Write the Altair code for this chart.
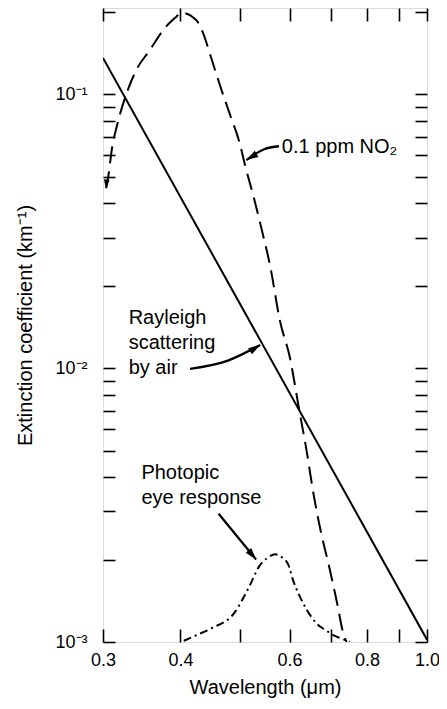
import json
import altair as alt
import pandas as pd

FONT = "Liberation Sans, Arial, Helvetica, sans-serif"

# ---- data ----
# Rayleigh scattering by air
rayleigh_wl = [0.3, 1.0]
rayleigh_ext = [0.136, 0.00102]

# 0.1 ppm NO2
no2_wl = [0.3036, 0.3067, 0.3100, 0.3158, 0.3262, 0.3396, 0.3576, 0.3752, 0.3937,
          0.401, 0.424, 0.435, 0.448, 0.464, 0.482, 0.498, 0.509, 0.526, 0.542,
          0.558, 0.579, 0.601, 0.621, 0.639, 0.656, 0.675, 0.695, 0.714, 0.735, 0.742]
no2_ext = [0.0455, 0.0521, 0.0631, 0.0765, 0.0984, 0.123, 0.146, 0.172, 0.192,
           0.199, 0.187, 0.168, 0.137, 0.107, 0.0832, 0.0670, 0.0548, 0.0416, 0.0316,
           0.0238, 0.0149, 0.0109, 0.00719, 0.00502, 0.00347, 0.00249, 0.00189, 0.00143, 0.00105, 0.00100]

# Photopic eye response
eye_wl = [0.405, 0.425, 0.448, 0.489, 0.517, 0.536, 0.553, 0.569, 0.583, 0.597,
          0.608, 0.623, 0.640, 0.663, 0.688, 0.706, 0.735, 0.750]
eye_ext = [0.00101, 0.00106, 0.00112, 0.00128, 0.00160, 0.00189, 0.00203, 0.00209, 0.00204, 0.00192,
           0.00168, 0.00147, 0.00131, 0.00117, 0.00110, 0.00106, 0.00102, 0.00100]

# annotation labels (position = left end of the first line)
label_text = ["0.1 ppm NO\u2082", "Rayleigh\nscattering\nby air", "Photopic\neye response"]
label_wl = [0.583, 0.330, 0.346]
label_ext = [0.0642, 0.01525, 0.00414]

# annotation arrows (shaft points, tail -> tip)
arrow_id = ["no2", "no2", "no2", "ray", "ray", "ray", "eye", "eye", "eye"]
arrow_wl = [0.577, 0.546, 0.511, 0.4146, 0.476, 0.538, 0.461, 0.494, 0.530]
arrow_ext = [0.0647, 0.0631, 0.0576, 0.00995, 0.01064, 0.01217, 0.00294, 0.00243, 0.00200]

# arrow heads (tips)
head_wl = [0.511, 0.538, 0.530, 0.3033]
head_ext = [0.0576, 0.01217, 0.00200, 0.0452]
head_angle = [239, 58, 140, 185]
head_size = [144, 144, 144, 90]

# axes ticks
x_ticks = [0.3, 0.4, 0.5, 0.6, 0.7, 0.8, 0.9, 1.0]
x_labels = ["0.3", "0.4", "0.6", "0.8", "1.0"]
y_ticks = [round(k * 10 ** e, 6) for e in (-3, -2, -1) for k in range(1, 10)]
y_labels = {0.001: "10\u207b\u00b3", 0.01: "10\u207b\u00b2", 0.1: "10\u207b\u00b9"}

# ---- frames ----
df_ray = pd.DataFrame({"wl": rayleigh_wl, "ext": rayleigh_ext})
df_no2 = pd.DataFrame({"wl": no2_wl, "ext": no2_ext})
df_eye = pd.DataFrame({"wl": eye_wl, "ext": eye_ext})
df_lab = pd.DataFrame({"wl": label_wl, "ext": label_ext, "txt": label_text})
df_arr = pd.DataFrame({"wl": arrow_wl, "ext": arrow_ext, "id": arrow_id})
df_head = pd.DataFrame({"wl": head_wl, "ext": head_ext, "angle": head_angle, "size": head_size})

x_scale = alt.Scale(type="log", domain=[0.3, 1.0], nice=False)
y_scale = alt.Scale(type="log", domain=[0.001, 0.207], nice=False)

x_label_expr = "indexof(%s, datum.label) >= 0 ? datum.label : ''" % json.dumps(x_labels)
y_label_expr = " : ".join(
    "abs(datum.value - %r) < 1e-9 ? '%s'" % (v, s) for v, s in y_labels.items()
) + " : ''"

common = dict(domain=False, grid=False, tickColor="black", tickWidth=1.6,
              labelFont=FONT, labelColor="black",
              titleFont=FONT, titleFontSize=20, titleColor="black",
              titleFontWeight="normal")

ax_bottom = alt.Axis(orient="bottom", values=x_ticks, format=".1f", labelExpr=x_label_expr,
                     tickSize=13, offset=-13, labelPadding=9, labelFontSize=18, labelFlush=False,
                     labelOverlap=False, title="Wavelength (\u03bcm)", titlePadding=8, **common)
ax_top = alt.Axis(orient="top", values=x_ticks, labels=False, tickSize=13, offset=-13,
                  title=None, **common)
ax_left = alt.Axis(orient="left", values=y_ticks, labelExpr=y_label_expr, tickSize=12,
                   offset=-12, labelPadding=16, labelFontSize=18, labelOverlap=False,
                   title="Extinction coefficient (km\u207b\u00b9)", titlePadding=19, **common)
ax_right = alt.Axis(orient="right", values=y_ticks, labels=False, tickSize=12, offset=-12,
                    title=None, **common)


def enc(xaxis=None, yaxis=None):
    return dict(x=alt.X("wl:Q", scale=x_scale, axis=xaxis),
                y=alt.Y("ext:Q", scale=y_scale, axis=yaxis))


ray = alt.Chart(df_ray).mark_line(color="black", strokeWidth=2, clip=True).encode(
    **enc(ax_bottom, ax_left))
no2 = alt.Chart(df_no2).mark_line(color="black", strokeWidth=2, strokeDash=[17, 8],
                                  interpolate="monotone", clip=True).encode(**enc(ax_top, ax_right))
eye = alt.Chart(df_eye).mark_line(color="black", strokeWidth=2, strokeDash=[8, 4, 2, 4],
                                  interpolate="monotone", clip=True).encode(**enc())
arrows = alt.Chart(df_arr).mark_line(color="black", strokeWidth=2.3, interpolate="monotone").encode(
    detail="id:N", **enc())
heads = alt.Chart(df_head).mark_point(shape="M0,0L0.6,2L-0.6,2Z", filled=True, color="black",
                                      opacity=1, strokeWidth=0).encode(
    angle=alt.Angle("angle:Q", scale=None), size=alt.Size("size:Q", scale=None), **enc())
labels = alt.Chart(df_lab).mark_text(font=FONT, fontSize=20, color="black", align="left",
                                     baseline="middle", lineBreak="\n", lineHeight=25).encode(
    text="txt:N", **enc())

chart = (
    alt.layer(ray, no2, eye, arrows, heads, labels)
    .resolve_axis(x="independent", y="independent")
    .properties(width=324, height=634, autosize=alt.AutoSizeParams(type="none"),
                padding={"left": 95, "top": 0, "right": 12, "bottom": 56})
    .configure_view(stroke="black", strokeWidth=2)
    .configure(font=FONT)
)

chart.save("out.html", embed_options={"renderer": "svg", "actions": False})
